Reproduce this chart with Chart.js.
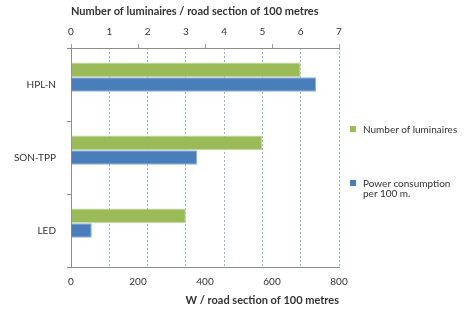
<!DOCTYPE html>
<html>
<head>
<meta charset="utf-8">
<script src="https://cdn.jsdelivr.net/npm/chart.js@4.4.0/dist/chart.umd.min.js"></script>
<style>
  body { margin: 0; background: #fff; }
  #wrap { position: relative; width: 468px; height: 309px; }
  #legenda { position: absolute; left: 350px; top: 0; font-family: Lato, sans-serif; font-size: 10px; color: #333; }
  .item { position: absolute; left: 0; white-space: nowrap; line-height: 10px; }
  .item span.cx { position: absolute; left: 0; top: 2px; width: 6px; height: 6px; }
  .item span.tx { position: absolute; left: 13px; top: 0; }
</style>
</head>
<body>
<div id="wrap">
  <canvas id="grafico" width="468" height="309"></canvas>
  <div id="legenda"></div>
</div>
<script>
// Dados
const categorias = ["HPL-N", "SON-TPP", "LED"];
const luminarias = [6, 5, 3];          // eixo superior
const consumoW = [732, 377, 62];       // eixo inferior
const ticksLuminarias = [0, 1, 2, 3, 4, 5, 6, 7];
const ticksW = [0, 200, 400, 600, 800];

const fonte = "Lato, 'Open Sans', sans-serif";
const cinza = "#8c8c8c";

const ctx = document.getElementById("grafico").getContext("2d");

const grafico = new Chart(ctx, {
  type: "bar",
  data: {
    labels: categorias,
    datasets: [
      {
        label: "Number of luminaires",
        data: luminarias,
        xAxisID: "xLum",
        backgroundColor: "#9BBB59",
        borderColor: "#c6d9a0",
        borderWidth: 1
      },
      {
        label: "Power consumption|per 100 m.",
        data: consumoW,
        xAxisID: "xW",
        backgroundColor: "#4A7EBB",
        borderColor: "#8eaedb",
        borderWidth: 1
      },
      {
        // série vazia só para reservar espaço (como no original)
        label: "",
        data: categorias.map(() => null),
        xAxisID: "xW",
        backgroundColor: "transparent"
      }
    ]
  },
  options: {
    indexAxis: "y",
    responsive: false,
    animation: false,
    layout: { padding: { left: 5, right: 129, top: 0, bottom: 0 } },
    categoryPercentage: 0.6,
    barPercentage: 1.0,
    plugins: {
      legend: { display: false },
      tooltip: { enabled: false }
    },
    scales: {
      y: {
        type: "category",
        afterFit: (s) => { s.width = 66; },
        grid: { drawOnChartArea: false, tickLength: 4, color: cinza, offset: true },
        border: { color: cinza },
        ticks: { font: { family: fonte, size: 10 }, color: "#333", padding: 11 }
      },
      xMarcas: {
        type: "linear",
        position: "top",
        weight: 0,
        min: 0,
        max: 800,
        afterBuildTicks: (s) => { s.ticks = ticksW.map(v => ({ value: v })); },
        afterFit: (s) => { s.height = 4; },
        grid: { drawOnChartArea: false, tickLength: 4, color: "#a0a0a0" },
        border: { color: cinza },
        ticks: { display: false }
      },
      xLum: {
        type: "linear",
        position: "top",
        weight: 1,
        min: 0,
        max: 7,
        afterBuildTicks: (s) => { s.ticks = ticksLuminarias.map(v => ({ value: v })); },
        afterFit: (s) => { s.height = 44; },
        grid: {
          drawOnChartArea: true,
          drawTicks: false,
          color: (c) => c.tick && c.tick.value === 0 ? "transparent" : "#95b3d7"
        },
        border: { display: false, dash: [2, 2] },
        ticks: { font: { family: fonte, size: 10 }, color: "#333", padding: 6 },
        title: {
          display: true,
          text: "Number of luminaires / road section of 100 metres",
          align: "start",
          font: { family: fonte, size: 11, weight: "bold" },
          color: "#333",
          padding: { top: 5, bottom: 0 }
        }
      },
      xW: {
        type: "linear",
        position: "bottom",
        min: 0,
        max: 800,
        afterBuildTicks: (s) => { s.ticks = ticksW.map(v => ({ value: v })); },
        afterFit: (s) => { s.height = 42; },
        grid: { drawOnChartArea: false, drawTicks: false },
        border: { color: cinza },
        ticks: { font: { family: fonte, size: 10 }, color: "#333", padding: 9 },
        title: {
          display: true,
          text: "W / road section of 100 metres",
          align: "end",
          font: { family: fonte, size: 11, weight: "bold" },
          color: "#333",
          padding: { top: 0, bottom: 2 }
        }
      }
    }
  }
});

// grade tracejada no eixo das luminárias
grafico.options.scales.xLum.border.dash = [2, 2];
grafico.update();

// Legenda em HTML ao lado do gráfico
const legenda = document.getElementById("legenda");
const posLegenda = [124, 178];
grafico.data.datasets.slice(0, 2).forEach((ds, i) => {
  const item = document.createElement("div");
  item.className = "item";
  item.style.top = posLegenda[i] + "px";
  item.innerHTML = `<span class="cx" style="background:${ds.backgroundColor}"></span>` +
    `<span class="tx">${ds.label.split("|").join("<br>")}</span>`;
  legenda.appendChild(item);
});
</script>
</body>
</html>
